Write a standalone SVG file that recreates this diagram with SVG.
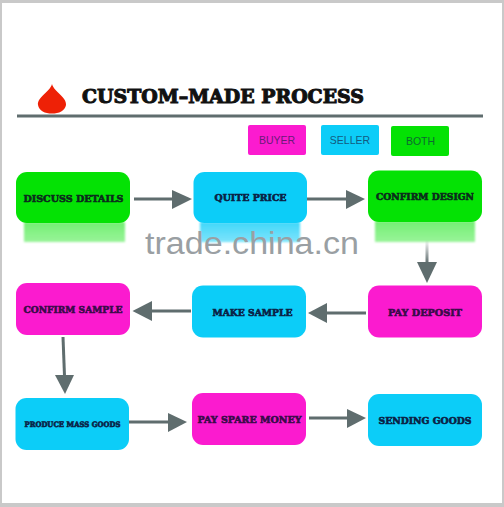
<svg xmlns="http://www.w3.org/2000/svg" width="504" height="507" viewBox="0 0 504 507">
<style>
.b{stroke:none}
.g{fill:#04e204}.c{fill:#0ccdf8}.m{fill:#fb1bcf}
.t{font-family:"DejaVu Serif","Liberation Serif",serif;font-weight:700;text-anchor:middle;stroke-width:.6}
.lg{font-family:"Liberation Sans",Arial,sans-serif;font-size:10.500px;text-anchor:middle}
.ar{fill:#5f6d6e}
.ln{stroke:#5f6d6e;stroke-width:3;fill:none}
</style>
<defs>
<linearGradient id="fg" x1="0" y1="0" x2="0" y2="1"><stop offset="0" stop-color="#04e204" stop-opacity=".55"/><stop offset="1" stop-color="#04e204" stop-opacity=".4"/></linearGradient>
<linearGradient id="fc" x1="0" y1="0" x2="0" y2="1"><stop offset="0" stop-color="#0ccdf8" stop-opacity=".8"/><stop offset="1" stop-color="#0ccdf8" stop-opacity=".55"/></linearGradient>
<linearGradient id="fa" x1="0" y1="0" x2="0" y2="1"><stop offset="0" stop-color="#5f6d6e" stop-opacity="0"/><stop offset="1" stop-color="#5f6d6e"/></linearGradient>
<filter id="soft" x="-10%" y="-10%" width="120%" height="120%"><feGaussianBlur stdDeviation="1.2"/></filter>
</defs>
<rect width="504" height="507" fill="#c9c9c9"/>
<rect x="2" y="3" width="500" height="500" fill="#fff"/>
<g id="header">
<path d="M52 84C54 92 67 97 66 105C65 111 59 113.500 52 113.500C45 113.500 39 111 38 105C37 97 50 92 52 84Z" fill="#ee2106"/>
<text x="223" y="102.500" font-family="'DejaVu Serif','Liberation Serif',serif" font-weight="700" font-size="18" text-anchor="middle" textLength="282" lengthAdjust="spacingAndGlyphs" fill="#111" stroke="#111" stroke-width="1">CUSTOM–MADE PROCESS</text>
<rect x="17" y="114.500" width="466" height="3" fill="#5f6d6e"/>
</g>
<g id="legend-buyer"><rect class="m" x="248" y="125" width="58" height="30" rx="2"/><text class="lg" x="277" y="143.500" fill="#6a1a78">BUYER</text></g>
<g id="legend-seller"><rect class="c" x="321" y="125" width="58" height="30" rx="2"/><text class="lg" x="350" y="143.500" fill="#135a80">SELLER</text></g>
<g id="legend-both"><rect class="g" x="391" y="126" width="58" height="30" rx="2"/><text class="lg" x="420.500" y="144.500" fill="#0d6a30">BOTH</text></g>
<g id="reflections" filter="url(#soft)">
<rect x="24" y="222" width="101" height="20" fill="url(#fg)"/>
<rect x="200" y="222" width="100" height="20" fill="url(#fc)"/>
<rect x="375" y="221" width="100" height="21" fill="url(#fg)"/>
</g>
<g id="connectors">
<path class="ln" d="M134 199H173"/><path class="ar" d="M172 190L192 199L172 209Z"/>
<path class="ln" d="M307 199H347"/><path class="ar" d="M346 190L365 199L346 209Z"/>
<path d="M425.500 240H428.500V263H425.500Z" fill="url(#fa)"/><path class="ar" d="M417 262H437L427 283Z"/>
<path class="ln" d="M366 313H326"/><path class="ar" d="M327 303L308 313L327 323Z"/>
<path class="ln" d="M191 311H151"/><path class="ar" d="M152 301L132.500 311L152 321Z"/>
<path class="ln" d="M63 337L64.500 376"/><path class="ar" d="M55 375H74L65 394Z"/>
<path class="ln" d="M129 422H169"/><path class="ar" d="M168 413L187 422L168 432Z"/>
<path class="ln" d="M309 418H348"/><path class="ar" d="M347 409L366 418L347 428Z"/>
</g>
<g id="discuss-details"><rect class="g" x="16" y="172" width="114" height="51" rx="11"/><text class="t" x="73.500" y="201.500" font-size="9.500" textLength="100" lengthAdjust="spacingAndGlyphs" fill="#0b2c1c" stroke="#0b2c1c">DISCUSS DETAILS</text></g>
<g id="quite-price"><rect class="c" x="193.500" y="172" width="113.500" height="51" rx="11"/><text class="t" x="250.500" y="200.500" font-size="9.500" textLength="72" lengthAdjust="spacingAndGlyphs" fill="#0a2145" stroke="#0a2145">QUITE PRICE</text></g>
<g id="confirm-design"><rect class="g" x="368" y="170.500" width="114" height="51.500" rx="11"/><text class="t" x="425" y="200" font-size="9.500" textLength="98" lengthAdjust="spacingAndGlyphs" fill="#0b2c1c" stroke="#0b2c1c">CONFIRM DESIGN</text></g>
<g id="pay-deposit"><rect class="m" x="368" y="285.500" width="114" height="52" rx="11"/><text class="t" x="425" y="315.500" font-size="9.500" textLength="74" lengthAdjust="spacingAndGlyphs" fill="#3a0b4a" stroke="#3a0b4a">PAY DEPOSIT</text></g>
<g id="make-sample"><rect class="c" x="192" y="285.500" width="114" height="52" rx="11"/><text class="t" x="252.500" y="315.500" font-size="9.500" textLength="80" lengthAdjust="spacingAndGlyphs" fill="#0a2145" stroke="#0a2145">MAKE SAMPLE</text></g>
<g id="confirm-sample"><rect class="m" x="16" y="283" width="114" height="52" rx="11"/><text class="t" x="73" y="313" font-size="9.500" textLength="99" lengthAdjust="spacingAndGlyphs" fill="#3a0b4a" stroke="#3a0b4a">CONFIRM SAMPLE</text></g>
<g id="produce-mass-goods"><rect class="c" x="15.500" y="398" width="113.500" height="52" rx="11"/><text class="t" x="72.500" y="427" font-size="7.500" textLength="96" lengthAdjust="spacingAndGlyphs" fill="#0a2145" stroke="#0a2145">PRODUCE MASS GOODS</text></g>
<g id="pay-spare-money"><rect class="m" x="192" y="393" width="114" height="52" rx="11"/><text class="t" x="249.500" y="423" font-size="9.500" textLength="104" lengthAdjust="spacingAndGlyphs" fill="#3a0b4a" stroke="#3a0b4a">PAY SPARE MONEY</text></g>
<g id="sending-goods"><rect class="c" x="368" y="394" width="114" height="52" rx="11"/><text class="t" x="425" y="423.500" font-size="9.500" textLength="93" lengthAdjust="spacingAndGlyphs" fill="#0a2145" stroke="#0a2145">SENDING GOODS</text></g>
<text id="watermark" x="252" y="254" font-family="'Liberation Sans',Arial,sans-serif" font-size="31" text-anchor="middle" textLength="214" lengthAdjust="spacingAndGlyphs" fill="#9a9fa3">trade.china.cn</text>
</svg>
